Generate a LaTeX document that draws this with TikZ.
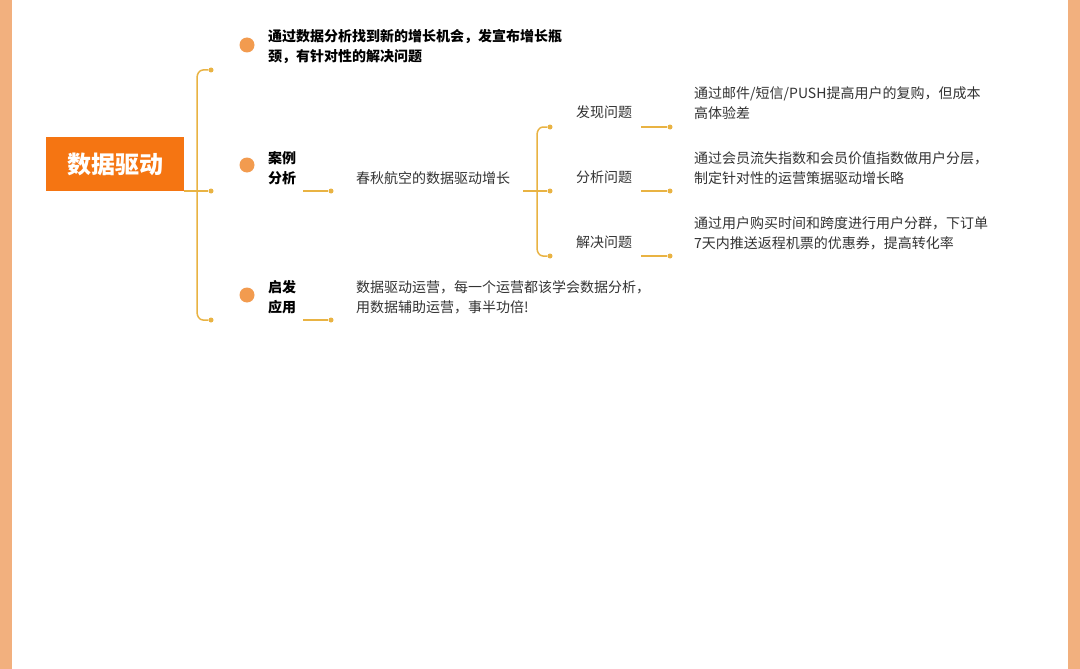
\documentclass[tikz,border=0pt]{standalone}
\usepackage{fontspec}
\setmainfont{Noto Sans CJK SC}
\begin{document}
\begin{tikzpicture}[x=1pt,y=-1pt]
\definecolor{side}{HTML}{F2B07E}
\definecolor{rootc}{HTML}{F57512}
\definecolor{ln}{HTML}{E9B343}
\definecolor{bul}{HTML}{F29B4F}
\definecolor{tx}{HTML}{333333}
\tikzset{lnk/.style={draw=ln,line width=1.5pt},
 endd/.style={circle,fill=ln,inner sep=0pt,minimum size=5pt},
 bullet/.style={circle,fill=bul,inner sep=0pt,minimum size=15pt},
 bt/.style={anchor=west,font=\fontsize{14pt}{20pt}\selectfont\bfseries,align=left,text=black,inner sep=0pt},
 nt/.style={anchor=west,font=\fontsize{14pt}{20pt}\selectfont,align=left,text=tx,inner sep=0pt}}
\useasboundingbox (0,0) rectangle (1080,669);
\fill[white] (0,0) rectangle (1080,669);
\fill[side] (0,0) rectangle (12,669);
\fill[side] (1068,0) rectangle (1080,669);
\node[fill=rootc,minimum width=138pt,minimum height=54pt,inner sep=0pt,text=white,font=\fontsize{24pt}{28pt}\selectfont\bfseries] (root) at (115,164) {数据驱动};
% main bracket
\coordinate (r0) at (184,191);
\node[endd] (e1) at (211,70) {};
\node[endd] (e2) at (211,191) {};
\node[endd] (e3) at (211,320) {};
\draw[lnk] (r0) -- (e2);
\draw[lnk] (e1) -- (203,70) to[out=180,in=90] (197,78) -- (197,312) to[out=-90,in=180] (203,320) -- (e3);
% bullets
\node[bullet] (b1) at (247,45) {};
\node[bullet] (b2) at (247,165) {};
\node[bullet] (b3) at (247,295) {};
\node[bt] (t1) at (268,47) {通过数据分析找到新的增长机会，发宣布增长瓶\\颈，有针对性的解决问题};
\node[bt] (t2) at (268,168) {案例\\分析};
\node[bt] (t3) at (268,297) {启发\\应用};
\coordinate (u2s) at (303,191); \node[endd] (u2e) at (331,191) {};
\coordinate (u3s) at (303,320); \node[endd] (u3e) at (331,320) {};
\draw[lnk] (u2s) -- (u2e); \draw[lnk] (u3s) -- (u3e);
\node[nt] (case) at (356,178) {春秋航空的数据驱动增长};
\node[nt] (app) at (356,297) {数据驱动运营，每一个运营都该学会数据分析，\\用数据辅助运营，事半功倍!};
% second bracket
\coordinate (s0) at (523,191);
\node[endd] (f1) at (550,127) {};
\node[endd] (f2) at (550,191) {};
\node[endd] (f3) at (550,256) {};
\draw[lnk] (s0) -- (f2);
\draw[lnk] (f1) -- (543,127) to[out=180,in=90] (537,135) -- (537,248) to[out=-90,in=180] (543,256) -- (f3);
\node[nt] (p1) at (576,112) {发现问题};
\node[nt] (p2) at (576,177) {分析问题};
\node[nt] (p3) at (576,242) {解决问题};
\foreach \y/\n in {127/g1,191/g2,256/g3}{
 \coordinate (\n s) at (641,\y); \node[endd] (\n e) at (670,\y) {};
 \draw[lnk] (\n s) -- (\n e);}
\node[nt] (d1) at (694,103) {通过邮件/短信/PUSH提高用户的复购，但成本\\高体验差};
\node[nt] (d2) at (694,168) {通过会员流失指数和会员价值指数做用户分层，\\制定针对性的运营策据驱动增长略};
\node[nt] (d3) at (694,233) {通过用户购买时间和跨度进行用户分群，下订单\\7天内推送返程机票的优惠券，提高转化率};
\end{tikzpicture}
\end{document}
